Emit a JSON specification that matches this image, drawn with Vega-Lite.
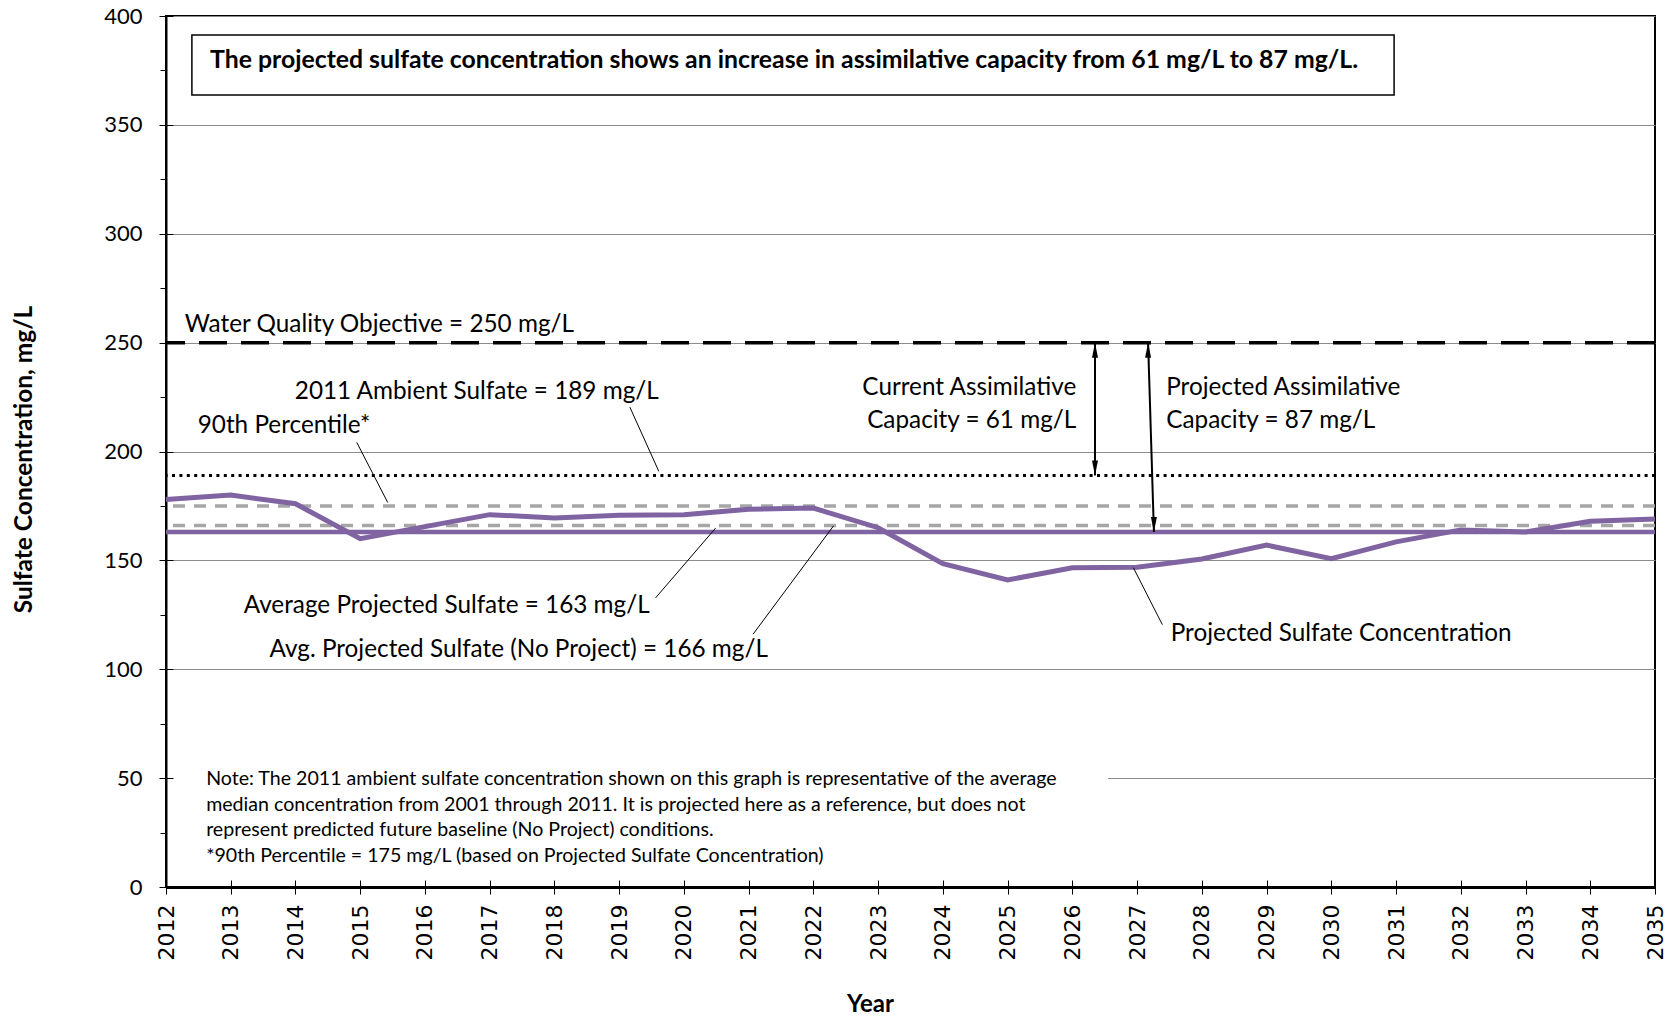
{
  "$schema": "https://vega.github.io/schema/vega-lite/v6.json",
  "width": 1489,
  "height": 871,
  "autosize": {"type": "none"},
  "padding": {"left": 166, "top": 16, "right": 25, "bottom": 130},
  "background": "white",
  "title": {"text": "2012-2035", "frame": "group", "anchor": "middle", "dx": -37, "offset": 13, "fontSize": 24, "font": "Lato", "fontWeight": "bold", "color": "black"},
  "config": {
    "view": {"stroke": "black", "strokeWidth": 2},
    "font": "Lato",
    "text": {"font": "Lato", "color": "black"}
  },
  "datasets": {
    "series": [
      {"year": 2012, "value": 178}, {"year": 2013, "value": 180}, {"year": 2014, "value": 176},
      {"year": 2015, "value": 160}, {"year": 2016, "value": 165.5}, {"year": 2017, "value": 171},
      {"year": 2018, "value": 169.5}, {"year": 2019, "value": 170.7}, {"year": 2020, "value": 171},
      {"year": 2021, "value": 173.5}, {"year": 2022, "value": 174}, {"year": 2023, "value": 165},
      {"year": 2024, "value": 148.5}, {"year": 2025, "value": 141}, {"year": 2026, "value": 146.6},
      {"year": 2027, "value": 146.8}, {"year": 2028, "value": 150.6}, {"year": 2029, "value": 157},
      {"year": 2030, "value": 150.8}, {"year": 2031, "value": 158.5}, {"year": 2032, "value": 164},
      {"year": 2033, "value": 163}, {"year": 2034, "value": 168}, {"year": 2035, "value": 169}
    ],
    "leaders": [
      {"x": 2019.165, "y": 220.4, "x2": 2019.612, "y2": 190.9},
      {"x": 2014.946, "y": 204.2, "x2": 2015.425, "y2": 176.6},
      {"x": 2019.563, "y": 132.8, "x2": 2020.489, "y2": 164.8},
      {"x": 2021.068, "y": 116.1, "x2": 2022.31, "y2": 165.8},
      {"x": 2027.39, "y": 120.5, "x2": 2026.943, "y2": 146.6}
    ],
    "labelsLeft": [
      {"x": 2012.29, "y": 258.1, "t": "Water Quality Objective = 250 mg/L"},
      {"x": 2013.99, "y": 227.3, "t": "2011 Ambient Sulfate = 189 mg/L"},
      {"x": 2012.49, "y": 211.7, "t": "90th Percentile*"},
      {"x": 2013.2, "y": 129.0, "t": "Average Projected Sulfate = 163 mg/L"},
      {"x": 2013.6, "y": 108.8, "t": "Avg. Projected Sulfate (No Project) = 166 mg/L"},
      {"x": 2027.52, "y": 116.2, "t": "Projected Sulfate Concentration"},
      {"x": 2027.45, "y": 229.2, "t": ["Projected Assimilative", "Capacity = 87 mg/L"]}
    ],
    "labelsRight": [
      {"x": 2026.06, "y": 229.2, "t": ["Current Assimilative", "Capacity = 61 mg/L"]}
    ]
  },
  "layer": [
    {
      "data": {"values": [{"x": 2012.06, "x2": 2026.55, "y": 5, "y2": 58}]},
      "mark": {"type": "rect", "fill": "white", "stroke": null},
      "encoding": {
        "x": {"field": "x", "type": "quantitative", "axis": null},
        "x2": {"field": "x2"},
        "y": {"field": "y", "type": "quantitative", "axis": null},
        "y2": {"field": "y2"}
      }
    },
    {
      "data": {"values": [{"v": 250}]},
      "mark": {"type": "rule", "color": "black", "strokeWidth": 3.5, "strokeDash": [28, 14]},
      "encoding": {
        "y": {"field": "v", "type": "quantitative",
          "axis": {"orient": "left", "values": [25, 75, 125, 175, 225, 275, 325, 375], "tickSize": 6, "tickColor": "black", "labels": false, "domain": false, "grid": false, "title": null}}
      }
    },
    {
      "data": {"values": [{"v": 189}]},
      "mark": {"type": "rule", "color": "black", "strokeWidth": 3, "strokeDash": [3, 4.4]},
      "encoding": {"y": {"field": "v", "type": "quantitative", "axis": null}}
    },
    {
      "data": {"values": [{"v": 175}, {"v": 166}]},
      "mark": {"type": "rule", "color": "#a6a6a6", "strokeWidth": 3.5, "strokeDash": [12, 9]},
      "encoding": {"y": {"field": "v", "type": "quantitative", "axis": null}}
    },
    {
      "data": {"values": [{"v": 163}]},
      "mark": {"type": "rule", "color": "#8064a2", "strokeWidth": 4.5},
      "encoding": {"y": {"field": "v", "type": "quantitative", "axis": null}}
    },
    {
      "data": {"name": "series"},
      "mark": {"type": "line", "color": "#8064a2", "strokeWidth": 5, "strokeJoin": "miter"},
      "encoding": {
        "x": {"field": "year", "type": "quantitative",
          "scale": {"domain": [2012, 2035], "nice": false, "zero": false},
          "axis": {"orient": "bottom", "values": [2012,2013,2014,2015,2016,2017,2018,2019,2020,2021,2022,2023,2024,2025,2026,2027,2028,2029,2030,2031,2032,2033,2034,2035],
            "format": "d", "labelAngle": -90, "labelAlign": "right", "labelBaseline": "middle", "labelFont": "DejaVu Sans", "labelFontSize": 22, "labelColor": "black",
            "labelOverlap": false, "labelBound": false, "labelFlush": false, "labelPadding": 10,
            "tickSize": 7, "tickColor": "black", "tickWidth": 1, "domainColor": "black", "domainWidth": 3, "grid": false,
            "title": "Year", "titleFont": "Lato", "titleFontSize": 24, "titleFontWeight": "bold", "titleColor": "black",
            "titleX": 704, "titleY": 117, "titleAlign": "center", "titleBaseline": "middle", "titleAnchor": null}},
        "y": {"field": "value", "type": "quantitative",
          "scale": {"domain": [0, 400], "nice": false, "zero": true},
          "axis": {"orient": "left", "values": [0, 50, 100, 150, 200, 250, 300, 350, 400],
            "labelFont": "Lato", "labelFontSize": 22, "labelColor": "black", "labelPadding": 17,
            "tickSize": 7, "tickColor": "black", "tickWidth": 1, "domainColor": "black", "domainWidth": 2,
            "grid": true, "gridColor": "#8c8c8c", "gridWidth": 1,
            "title": "Sulfate Concentration, mg/L", "titleFont": "Lato", "titleFontSize": 24.5, "titleFontWeight": "bold", "titleColor": "black",
            "titleX": -142, "titleY": 443, "titleAngle": -90, "titleAlign": "center", "titleBaseline": "middle", "titleAnchor": null}}
      }
    },
    {
      "data": {"name": "leaders"},
      "mark": {"type": "rule", "color": "black", "strokeWidth": 1},
      "encoding": {
        "x": {"field": "x", "type": "quantitative",
          "axis": {"orient": "bottom", "values": [2012,2013,2014,2015,2016,2017,2018,2019,2020,2021,2022,2023,2024,2025,2026,2027,2028,2029,2030,2031,2032,2033,2034,2035], "tickSize": -7, "tickColor": "black", "labels": false, "domain": false, "grid": false, "title": null, "zindex": 1}},
        "y": {"field": "y", "type": "quantitative",
          "axis": {"orient": "left", "values": [0, 50, 100, 150, 200, 250, 300, 350, 400], "tickSize": -7, "tickColor": "black", "labels": false, "domain": false, "grid": false, "title": null, "zindex": 1}},
        "x2": {"field": "x2"},
        "y2": {"field": "y2"}
      }
    },
    {
      "data": {"values": [
        {"x": 2026.35, "y": 250, "x2": 2026.35, "y2": 189},
        {"x": 2027.17, "y": 250, "x2": 2027.26, "y2": 163}
      ]},
      "mark": {"type": "rule", "color": "black", "strokeWidth": 2},
      "encoding": {
        "x": {"field": "x", "type": "quantitative", "axis": null},
        "y": {"field": "y", "type": "quantitative", "axis": null},
        "x2": {"field": "x2"},
        "y2": {"field": "y2"}
      }
    },
    {
      "data": {"values": [{"x": 2026.35, "y": 250}, {"x": 2027.17, "y": 250}]},
      "mark": {"type": "point", "filled": true, "color": "black", "opacity": 1, "size": 225, "shape": "M0,-1L0.4,1L-0.4,1Z", "yOffset": 7.5},
      "encoding": {
        "x": {"field": "x", "type": "quantitative", "axis": null},
        "y": {"field": "y", "type": "quantitative", "axis": null}
      }
    },
    {
      "data": {"values": [{"x": 2026.35, "y": 189}, {"x": 2027.26, "y": 163}]},
      "mark": {"type": "point", "filled": true, "color": "black", "opacity": 1, "size": 225, "shape": "M0,1L0.4,-1L-0.4,-1Z", "yOffset": -7.5},
      "encoding": {
        "x": {"field": "x", "type": "quantitative", "axis": null},
        "y": {"field": "y", "type": "quantitative", "axis": null}
      }
    },
    {
      "data": {"name": "labelsLeft"},
      "mark": {"type": "text", "align": "left", "baseline": "middle", "fontSize": 24.3, "lineHeight": 33, "font": "Lato", "color": "black"},
      "encoding": {
        "x": {"field": "x", "type": "quantitative", "axis": null},
        "y": {"field": "y", "type": "quantitative", "axis": null},
        "text": {"field": "t"}
      }
    },
    {
      "data": {"name": "labelsRight"},
      "mark": {"type": "text", "align": "right", "baseline": "middle", "fontSize": 24.3, "lineHeight": 33, "font": "Lato", "color": "black"},
      "encoding": {
        "x": {"field": "x", "type": "quantitative", "axis": null},
        "y": {"field": "y", "type": "quantitative", "axis": null},
        "text": {"field": "t"}
      }
    },
    {
      "data": {"values": [{"x": 2012.62, "y": 49.6, "t": [
        "Note: The 2011 ambient sulfate concentration shown on this graph is representative of the average",
        "median concentration from 2001 through 2011.  It is projected here as a reference, but does not",
        "represent predicted future baseline (No Project) conditions.",
        "*90th Percentile = 175 mg/L (based on Projected Sulfate Concentration)"
      ]}]},
      "mark": {"type": "text", "align": "left", "baseline": "middle", "fontSize": 19.6, "lineHeight": 25.7, "font": "Lato", "color": "black"},
      "encoding": {
        "x": {"field": "x", "type": "quantitative", "axis": null},
        "y": {"field": "y", "type": "quantitative", "axis": null},
        "text": {"field": "t"}
      }
    },
    {
      "data": {"values": [{"x": 2012.40, "x2": 2030.97, "y": 363.7, "y2": 391.3}]},
      "mark": {"type": "rect", "fill": "white", "stroke": "black", "strokeWidth": 1.5},
      "encoding": {
        "x": {"field": "x", "type": "quantitative", "axis": null},
        "x2": {"field": "x2"},
        "y": {"field": "y", "type": "quantitative", "axis": null},
        "y2": {"field": "y2"}
      }
    },
    {
      "data": {"values": [{"x": 2012.68, "y": 379.3, "t": "The projected sulfate concentration shows an increase in assimilative capacity from 61 mg/L to 87 mg/L."}]},
      "mark": {"type": "text", "align": "left", "baseline": "middle", "fontSize": 24.8, "fontWeight": "bold", "font": "Lato", "color": "black"},
      "encoding": {
        "x": {"field": "x", "type": "quantitative", "axis": null},
        "y": {"field": "y", "type": "quantitative", "axis": null},
        "text": {"field": "t"}
      }
    }
  ],
  "resolve": {"axis": {"x": "independent", "y": "independent"}}
}
